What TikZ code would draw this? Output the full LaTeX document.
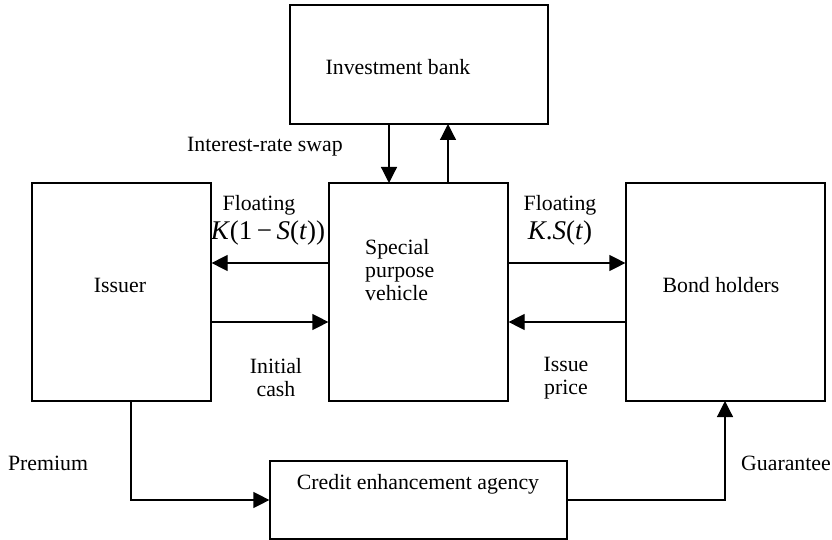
\documentclass[tikz,border=0pt]{standalone}
\usepackage{fontspec}
\setmainfont{Liberation Serif}
\usetikzlibrary{arrows.meta}
\begin{document}
\begin{tikzpicture}[x=1pt,y=-1pt,
  box/.style={draw,line width=1.2pt},
  lbl/.style={inner sep=0pt,font=\fontsize{21.8}{23}\selectfont,align=center},
  mlbl/.style={inner sep=0pt,font=\fontsize{27}{30}\selectfont},
  conn/.style={line width=1.2pt,-{Triangle[width=16pt,length=16pt]}}]
\useasboundingbox (0,0) rectangle (832,540);
% boxes
\node[box,minimum width=258pt,minimum height=119pt,inner sep=0pt] (ib) at (419,64.5) {};
\node[box,minimum width=179pt,minimum height=218pt,inner sep=0pt] (issuer) at (121.5,292) {};
\node[box,minimum width=179pt,minimum height=218pt,inner sep=0pt] (spv) at (418.5,292) {};
\node[box,minimum width=199pt,minimum height=218pt,inner sep=0pt] (bh) at (725.5,292) {};
\node[box,minimum width=297pt,minimum height=78pt,inner sep=0pt] (cea) at (418.5,500) {};
% box texts
\node[lbl] (ibt) at (398,67) {Investment bank};
\node[lbl] (ist) at (120,285) {Issuer};
\node[lbl,anchor=west,align=left] (spvt) at (365,270) {Special\\purpose\\vehicle};
\node[lbl] (bht) at (721,285) {Bond holders};
\node[lbl] (ceat) at (418,484) {Credit enhancement agency};
% connector coordinates
\coordinate (ibd) at (389,124);
\coordinate (spvd) at (389,183);
\coordinate (ibu) at (448,124);
\coordinate (spvu) at (448,183);
\coordinate (pr1) at (131,401);
\coordinate (pr2) at (131,500);
\coordinate (gu1) at (725,500);
\coordinate (gu2) at (725,401);
% connectors
\draw[conn] (ibd) -- (spvd);
\draw[conn] (spvu) -- (ibu);
\draw[conn] (spv.west |- 0,263) -- (issuer.east |- 0,263);
\draw[conn] (issuer.east |- 0,322) -- (spv.west |- 0,322);
\draw[conn] (spv.east |- 0,263) -- (bh.west |- 0,263);
\draw[conn] (bh.west |- 0,322) -- (spv.east |- 0,322);
\draw[conn] (pr1) -- (pr2) -- (cea.west);
\draw[conn] (cea.east) -- (gu1) -- (gu2);
% labels
\node[lbl] (swap) at (265,147) {Interest-rate swap};
\node[lbl] (fl1) at (259,205) {Floating};
\node[mlbl] (k1) at (268,233) {\textit{K}(1\,−\,\textit{S}(\textit{t}))};
\node[lbl] (fl2) at (560,205) {Floating};
\node[mlbl] (k2) at (560,233) {\textit{K}.\textit{S}(\textit{t})};
\node[lbl] (ic) at (276,378) {Initial\\cash};
\node[lbl] (ip) at (566,378) {Issue\\price};
\node[lbl] (prem) at (48,463) {Premium};
\node[lbl] (guar) at (786,463) {Guarantee};
\end{tikzpicture}
\end{document}
